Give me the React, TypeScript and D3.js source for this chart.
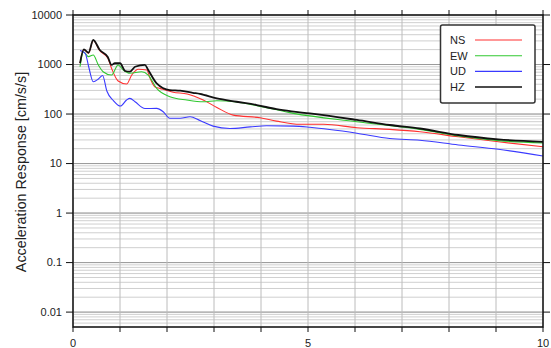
import React from 'react';
import * as d3 from 'd3';

// periods (s) and response values (cm/s/s)
const nsT = [0.15, 0.23, 0.33, 0.43, 0.57, 0.74, 0.82, 0.96, 1.14, 1.25, 1.39, 1.57, 1.64, 1.74, 1.85, 2.13, 2.43, 2.77, 3.06, 3.41, 3.98, 4.33, 4.83, 5.33, 6.04, 6.74, 7.38, 8.2, 9.05, 10];
const nsV = [1050, 2000, 1700, 3050, 1900, 1350, 838, 464, 404, 613, 800, 774, 526, 357, 330, 275, 254, 192, 136, 95, 84, 72, 62, 62, 53, 49, 44, 34.7, 27.5, 21.8];

const ewT = [0.15, 0.22, 0.33, 0.43, 0.54, 0.64, 0.82, 0.96, 1.07, 1.21, 1.46, 1.6, 1.78, 2.06, 2.42, 2.77, 3.06, 3.48, 3.91, 4.69, 6.04, 7.38, 8.2, 9.05, 10];
const ewV = [903, 1815, 1440, 1556, 977, 716, 613, 977, 775, 664, 716, 613, 330, 224, 192, 177, 186, 175, 148, 103, 70, 49, 36, 29, 26];

const udT = [0.15, 0.26, 0.34, 0.43, 0.54, 0.63, 0.72, 0.86, 1.01, 1.14, 1.21, 1.32, 1.53, 1.78, 1.92, 2.06, 2.28, 2.49, 2.7, 2.98, 3.34, 3.77, 4.12, 4.69, 5.04, 6.04, 6.74, 7.38, 8.2, 9.05, 10];
const udV = [1920, 1680, 850, 450, 509, 600, 292, 187, 145, 192, 207, 177, 129, 130, 111, 82, 82, 88, 74, 57, 51, 55, 58, 57, 54, 41, 32, 29.5, 23.7, 19.4, 14.2];

const hzT = [0.15, 0.23, 0.33, 0.43, 0.57, 0.74, 0.82, 0.89, 1.0, 1.11, 1.21, 1.32, 1.53, 1.6, 1.78, 2.06, 2.28, 2.55, 2.7, 3.06, 3.48, 3.91, 4.33, 4.65, 5.04, 6.04, 6.74, 7.38, 8.2, 9.05, 10];
const hzV = [1070, 2030, 1730, 3130, 1960, 1420, 980, 1060, 1060, 740, 716, 900, 980, 775, 417, 305, 296, 268, 255, 207, 177, 152, 125, 113, 103, 76, 60, 51, 37.7, 30.8, 27.5];

const seriesNames = ['NS', 'EW', 'UD', 'HZ'];
const yTickLabels = ['0.01', '0.1', '1', '10', '100', '1000', '10000'];
const xTickLabels = ['0', '5', '10'];

const W = 551;
const H = 348;
const margin = { top: 15, right: 8, bottom: 21, left: 73 };

export default function App() {
  const x = d3.scaleLinear().domain([0, 10]).range([margin.left, W - margin.right]);
  const y = d3.scaleLog().domain([0.005, 10000]).range([H - margin.bottom, margin.top]);

  const series = [
    { name: seriesNames[0], t: nsT, v: nsV, color: '#ff3030', w: 1.1 },
    { name: seriesNames[1], t: ewT, v: ewV, color: '#30c830', w: 1.1 },
    { name: seriesNames[2], t: udT, v: udV, color: '#3a3aff', w: 1.1 },
    { name: seriesNames[3], t: hzT, v: hzV, color: '#111', w: 1.8 },
  ];

  const line = d3.line<[number, number]>()
    .x(d => x(d[0]))
    .y(d => y(d[1]))
    .curve(d3.curveMonotoneX);

  // minor horizontal grid at 1..9 x 10^k
  const minor: number[] = [];
  for (let k = -3; k <= 3; k++) {
    for (let m = 1; m <= 9; m++) {
      const v = m * Math.pow(10, k);
      if (v >= 0.005 && v <= 10000) minor.push(v);
    }
  }
  const decades = yTickLabels.map(Number);
  const xMinor = d3.range(0, 11);

  const [x0, x1] = x.range();
  const [yb, yt] = y.range();

  return (
    <svg width={W} height={H} style={{ position: 'absolute', left: 0, top: 0, fontFamily: 'Liberation Sans, Arial, sans-serif' }}>
      <rect x={0} y={0} width={W} height={H} fill="#fff" />
      {/* grid */}
      {minor.map((v, i) => (
        <line key={'m' + i} x1={x0} x2={x1} y1={y(v)} y2={y(v)} stroke="#cfcfcf" strokeWidth={1} />
      ))}
      {decades.map((v, i) => (
        <line key={'d' + i} x1={x0} x2={x1} y1={y(v)} y2={y(v)} stroke="#9a9a9a" strokeWidth={1} />
      ))}
      {xMinor.map(v => (
        <line key={'x' + v} x1={x(v)} x2={x(v)} y1={yt} y2={yb} stroke="#bcbcbc" strokeWidth={1} />
      ))}

      {/* curves */}
      {series.map(s => (
        <path key={s.name} d={line(s.t.map((t, i) => [t, s.v[i]] as [number, number])) || ''}
          fill="none" stroke={s.color} strokeWidth={s.w} strokeLinejoin="round" />
      ))}

      {/* frame */}
      <rect x={x0} y={yt} width={x1 - x0} height={yb - yt} fill="none" stroke="#111" strokeWidth={1.5} />

      {/* y ticks */}
      {decades.map((v, i) => (
        <g key={'yt' + i}>
          <line x1={x0 - 7} x2={x0} y1={y(v)} y2={y(v)} stroke="#111" />
          <line x1={x1} x2={x1 + 7} y1={y(v)} y2={y(v)} stroke="#111" />
          <text x={x0 - 11} y={y(v)} dy="0.35em" textAnchor="end" fontSize={11} fill="#222">{yTickLabels[i]}</text>
        </g>
      ))}
      {/* x ticks */}
      {xMinor.map(v => (
        <g key={'xt' + v}>
          <line x1={x(v)} x2={x(v)} y1={yb} y2={yb + 5} stroke="#111" />
          <line x1={x(v)} x2={x(v)} y1={yt - 5} y2={yt} stroke="#111" />
        </g>
      ))}
      {xTickLabels.map(l => (
        <text key={'xl' + l} x={x(+l)} y={yb + 20} textAnchor="middle" fontSize={11} fill="#222">{l}</text>
      ))}

      <text transform={`translate(26,172) rotate(-90)`} textAnchor="middle" fontSize={14.3} fill="#222">
        Acceleration Response [cm/s/s]
      </text>

      {/* legend */}
      <g>
        <rect x={440.5} y={25} width={94.5} height={78} rx={2} fill="#fff" stroke="#333" strokeWidth={1.5} />
        {series.map((s, i) => (
          <g key={'lg' + s.name} transform={`translate(0,${40 + i * 15.7})`}>
            <text x={450} y={0} dy="0.35em" fontSize={11} fill="#222">{s.name}</text>
            <line x1={475} x2={522} y1={0} y2={0} stroke={s.color} strokeWidth={s.name === 'HZ' ? 1.5 : 1.1} />
          </g>
        ))}
      </g>
    </svg>
  );
}
